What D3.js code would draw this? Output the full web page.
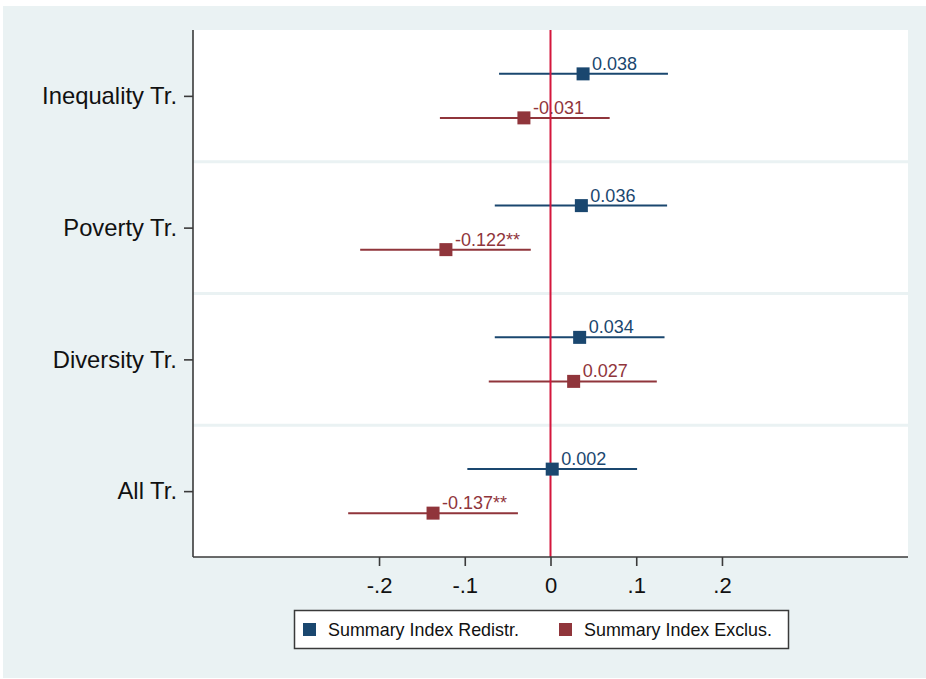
<!DOCTYPE html>
<html>
<head>
<meta charset="utf-8">
<script src="https://cdn.jsdelivr.net/npm/d3@7"></script>
<style>
  html, body { margin: 0; padding: 0; background: #ffffff; }
  svg { display: block; font-family: "Liberation Sans", Arial, sans-serif; }
</style>
</head>
<body>
<svg id="chart" width="926" height="679"></svg>
<script>
// Treatment groups (top to bottom)
const categories = ["Inequality Tr.", "Poverty Tr.", "Diversity Tr.", "All Tr."];
const seriesNames = ["Summary Index Redistr.", "Summary Index Exclus."];

// Summary Index Redistr.: estimates and 95% CI bounds
const redistrEst = [0.038, 0.036, 0.034, 0.002];
const redistrLo = [-0.060, -0.065, -0.065, -0.097];
const redistrHi = [0.137, 0.136, 0.133, 0.101];
const redistrStars = ["", "", "", ""];

// Summary Index Exclus.: estimates and 95% CI bounds
const exclusEst = [-0.031, -0.122, 0.027, -0.137];
const exclusLo = [-0.129, -0.222, -0.072, -0.236];
const exclusHi = [0.069, -0.023, 0.124, -0.038];
const exclusStars = ["", "**", "", "**"];

// x-axis ticks
const xTickValues = [-0.2, -0.1, 0, 0.1, 0.2];
const xTickLabels = ["-.2", "-.1", "0", ".1", ".2"];

const seriesColors = ["#1a476f", "#90353b"];
const bgColor = "#eaf2f3";

const svg = d3.select("#chart");

// outer graph region
svg.append("rect").attr("x", 3).attr("y", 6).attr("width", 923).attr("height", 672)
  .attr("fill", bgColor);

const plot = { left: 193, right: 908, top: 30, bottom: 557 };
svg.append("rect").attr("x", plot.left).attr("y", plot.top)
  .attr("width", plot.right - plot.left).attr("height", plot.bottom - plot.top)
  .attr("fill", "#ffffff");

const x = d3.scaleLinear().domain([-0.417, 0.417]).range([plot.left, plot.right]);
// category positions 1..4 from top to bottom
const y = d3.scaleLinear().domain([0.5, 4.5]).range([plot.top, plot.bottom]);
const offset = 0.167;

// separators between groups
svg.append("g").selectAll("line")
  .data(d3.range(1, categories.length).map(i => i + 0.5))
  .join("line")
  .attr("x1", plot.left).attr("x2", plot.right)
  .attr("y1", d => y(d)).attr("y2", d => y(d))
  .attr("stroke", bgColor).attr("stroke-width", 3);

const series = [
  { name: seriesNames[0], est: redistrEst, lo: redistrLo, hi: redistrHi, stars: redistrStars, dy: -offset, color: seriesColors[0] },
  { name: seriesNames[1], est: exclusEst, lo: exclusLo, hi: exclusHi, stars: exclusStars, dy: offset, color: seriesColors[1] }
];

// confidence intervals
series.forEach(s => {
  svg.append("g").selectAll("line")
    .data(categories.map((c, i) => ({ i, lo: s.lo[i], hi: s.hi[i] })))
    .join("line")
    .attr("x1", d => x(d.lo)).attr("x2", d => x(d.hi))
    .attr("y1", d => y(d.i + 1 + s.dy)).attr("y2", d => y(d.i + 1 + s.dy))
    .attr("stroke", s.color).attr("stroke-width", 2);
});

// reference line at zero
svg.append("line")
  .attr("x1", x(0)).attr("x2", x(0))
  .attr("y1", plot.top).attr("y2", plot.bottom)
  .attr("stroke", "#d4163c").attr("stroke-width", 2);

// point estimates and value labels (plain hyphen for negatives)
const fmt = v => d3.format(".3f")(v).replace("\u2212", "-");
const ms = 13;
series.forEach(s => {
  const g = svg.append("g");
  const pts = categories.map((c, i) => ({ i, v: s.est[i], star: s.stars[i] }));
  g.selectAll("rect").data(pts).join("rect")
    .attr("x", d => x(d.v) - ms / 2).attr("y", d => y(d.i + 1 + s.dy) - ms / 2)
    .attr("width", ms).attr("height", ms)
    .attr("fill", s.color);
  g.selectAll("text").data(pts).join("text")
    .attr("x", d => x(d.v) + 9).attr("y", d => y(d.i + 1 + s.dy) - 4)
    .attr("fill", s.color).attr("font-size", 18)
    .text(d => fmt(d.v) + d.star);
});

// axes
const xAxis = d3.axisBottom(x).tickValues(xTickValues)
  .tickFormat((d, i) => xTickLabels[i]).tickSize(9).tickPadding(11);
const gx = svg.append("g").attr("transform", `translate(0,${plot.bottom})`).call(xAxis);
gx.select(".domain").attr("d", `M${plot.left},0H${plot.right}`);

const yAxis = d3.axisLeft(y).tickValues(d3.range(1, categories.length + 1))
  .tickFormat(d => categories[d - 1]).tickSize(9).tickPadding(7);
const gy = svg.append("g").attr("transform", `translate(${plot.left},0)`).call(yAxis);
gy.select(".domain").attr("d", `M0,${plot.top}V${plot.bottom}`);

[gx, gy].forEach(g => {
  g.select(".domain").attr("stroke", "#3a3a3a").attr("stroke-width", 1.6);
  g.selectAll(".tick line").attr("stroke", "#3a3a3a").attr("stroke-width", 1.6);
  g.selectAll(".tick text").attr("fill", "#111111")
    .attr("font-family", "'Liberation Sans', Arial, sans-serif");
});
gx.selectAll(".tick text").attr("font-size", 22);
gy.selectAll(".tick text").attr("font-size", 23.8);

// legend
const legend = svg.append("g");
legend.append("rect").attr("x", 294.5).attr("y", 610.5).attr("width", 494).attr("height", 38)
  .attr("fill", "#ffffff").attr("stroke", "#3a3a3a").attr("stroke-width", 1.5);
const legendX = [303, 559];
series.forEach((s, i) => {
  legend.append("rect").attr("x", legendX[i]).attr("y", 623).attr("width", 13).attr("height", 13)
    .attr("fill", s.color);
  legend.append("text").attr("x", legendX[i] + 25).attr("y", 636)
    .attr("font-size", 17.9).attr("fill", "#111111").text(s.name);
});
</script>
</body>
</html>
